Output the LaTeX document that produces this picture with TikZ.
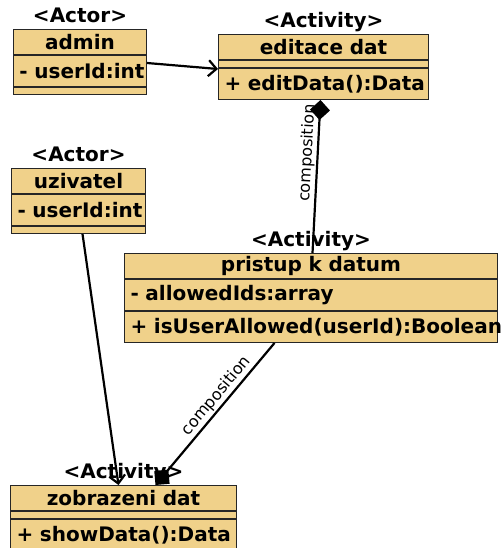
\documentclass[tikz,border=0pt]{standalone}
\usepackage{fontspec}
\setmainfont{DejaVu Sans}
\usetikzlibrary{positioning,arrows.meta}
\definecolor{umlfill}{RGB}{240,209,138}
\begin{document}
\begin{tikzpicture}
	[x=1pt,y=-1pt,
	row/.style={draw=black!85, fill=umlfill, line width=1pt,
		inner xsep=6pt, inner ysep=1pt,
		font=\bfseries\fontsize{20}{24}\selectfont},
	title/.style={row, anchor=north west, minimum height=25pt, align=center},
	member/.style={row, minimum height=31pt, align=left},
	gap/.style={row, minimum height=7pt},
	stereo/.style={font=\bfseries\fontsize{20}{24}\selectfont,
		inner sep=1pt, text depth=5pt},
	link/.style={line width=2.2pt},
	assoc/.style={link, -{Straight Barb[length=8pt,width=16pt]}},
	compo/.style={link, -{Diamond[length=20pt,width=20pt]}},
	lbl/.style={sloped, above, inner sep=1.5pt,
		font=\fontsize{16}{19}\selectfont}]
	\useasboundingbox (0,0) rectangle (501,548);
	\node[title, text width=121pt] (admin) at (13,29) {admin};
	\node[member, text width=121pt, below=0pt of admin] (admin-a) {\mbox{- userId:int}};
	\node[gap, text width=121pt, below=0pt of admin-a] (admin-m) {};
	\node[stereo, above=0pt of admin] (admin-s) {<Actor>};
	\node[title, text width=198pt] (edit) at (218,34) {editace dat};
	\node[gap, text width=198pt, below=0pt of edit] (edit-a) {};
	\node[member, text width=198pt, below=0pt of edit-a] (edit-m) {\mbox{+ editData():Data}};
	\node[stereo, above=0pt of edit] (edit-s) {<Activity>};
	\node[title, text width=122pt] (uziv) at (11,168) {uzivatel};
	\node[member, text width=122pt, below=0pt of uziv] (uziv-a) {\mbox{- userId:int}};
	\node[gap, text width=122pt, below=0pt of uziv-a] (uziv-m) {};
	\node[stereo, above=0pt of uziv] (uziv-s) {<Actor>};
	\node[title, text width=361pt] (prist) at (124,253) {pristup k datum};
	\node[member, text width=361pt, below=0pt of prist] (prist-a) {\mbox{- allowedIds:array}};
	\node[member, text width=361pt, below=0pt of prist-a] (prist-m) {\mbox{+ isUserAllowed(userId):Boolean}};
	\node[stereo, above=0pt of prist] (prist-s) {<Activity>};
	\node[title, text width=214pt] (zobr) at (10,485) {zobrazeni dat};
	\node[gap, text width=214pt, below=0pt of zobr] (zobr-a) {};
	\node[member, text width=214pt, below=0pt of zobr-a] (zobr-m) {\mbox{+ showData():Data}};
	\node[stereo, above=0pt of zobr] (zobr-s) {<Activity>};
	\draw[assoc] ([yshift=-8pt]admin-a.north east) -- ([yshift=-1pt]edit-m.north west);
	\draw[compo] ([xshift=1.5pt]prist.north) -- node[lbl, pos=0.65] (comp-a) {composition} ([xshift=-3pt]edit-m.south);
	\draw[assoc] ([xshift=4pt]uziv-m.south) -- ([xshift=-5pt]zobr.north);
	\draw[compo] ([xshift=-36.5pt]prist-m.south) -- node[lbl, pos=0.42] (comp-b) {composition} ([xshift=32pt]zobr.north);
\end{tikzpicture}
\end{document}
